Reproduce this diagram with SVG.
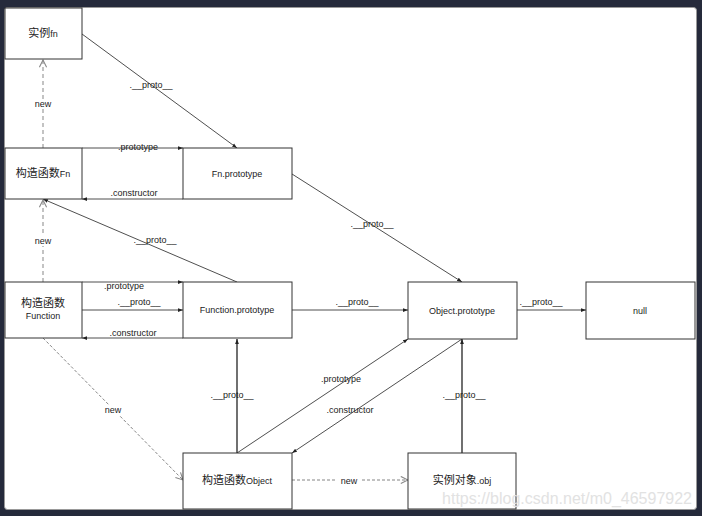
<svg xmlns="http://www.w3.org/2000/svg" width="702" height="516" viewBox="0 0 702 516">
<defs>
<style>
.box{fill:#fff;stroke:#333;stroke-width:1}
.t{font-family:"Liberation Sans","Noto Sans CJK SC",sans-serif;font-size:9px;fill:#222;text-anchor:middle}
.bt{font-family:"Liberation Sans","Noto Sans CJK SC",sans-serif;font-size:9px;fill:#222;text-anchor:middle}
.cjk{font-size:11px}
.ln{fill:none;stroke:#222;stroke-width:0.8}
.lnb{fill:none;stroke:#111;stroke-width:1.2}
.dash{fill:none;stroke:#aaa;stroke-width:1.4;stroke-dasharray:4,3}
.dash2{fill:none;stroke:#666;stroke-width:0.8;stroke-dasharray:3,2}
.lb{fill:#fff}
</style>
<marker id="a" viewBox="0 0 8 8" refX="8" refY="4" markerWidth="5" markerHeight="5" orient="auto" markerUnits="userSpaceOnUse">
<path d="M0,1 L8,4 L0,7 Z" fill="#222"/>
</marker>
<marker id="o" viewBox="0 0 10 10" refX="9" refY="5" markerWidth="9" markerHeight="9" orient="auto" markerUnits="userSpaceOnUse">
<path d="M1,1 L9,5 L1,9" fill="none" stroke="#888" stroke-width="1.2"/>
</marker>
</defs>
<rect x="0" y="0" width="702" height="516" fill="#252a3b"/>
<rect x="4.5" y="7.5" width="692" height="502" rx="3" fill="#fff" stroke="#999"/>

<g id="connectors">
<line class="ln" x1="82" y1="34" x2="237" y2="148" marker-end="url(#a)"/>
<line class="dash" x1="43" y1="148" x2="43" y2="60" marker-end="url(#o)"/>
<line class="ln" x1="82" y1="148" x2="183" y2="148" marker-end="url(#a)"/>
<line class="ln" x1="183" y1="199" x2="82" y2="199" marker-end="url(#a)"/>
<line class="ln" x1="292" y1="174" x2="462" y2="282" marker-end="url(#a)"/>
<line class="ln" x1="237" y1="282" x2="43" y2="199" marker-end="url(#a)"/>
<line class="dash" x1="43" y1="282" x2="43" y2="200" marker-end="url(#o)"/>
<line class="ln" x1="82" y1="282" x2="183" y2="282" marker-end="url(#a)"/>
<line class="ln" x1="82" y1="310" x2="183" y2="310" marker-end="url(#a)"/>
<line class="ln" x1="183" y1="338" x2="82" y2="338" marker-end="url(#a)"/>
<line class="ln" x1="292" y1="310" x2="408" y2="310" marker-end="url(#a)"/>
<line class="ln" x1="517" y1="310" x2="586" y2="310" marker-end="url(#a)"/>
<line class="dash2" x1="43" y1="338" x2="183" y2="480" marker-end="url(#o)"/>
<line class="lnb" x1="237" y1="453" x2="237" y2="339" marker-end="url(#a)"/>
<line class="ln" x1="237" y1="453" x2="408" y2="339" marker-end="url(#a)"/>
<line class="ln" x1="462" y1="339" x2="292" y2="453" marker-end="url(#a)"/>
<line class="dash2" x1="292" y1="480" x2="408" y2="480" marker-end="url(#o)"/>
<line class="lnb" x1="462" y1="453" x2="462" y2="339" marker-end="url(#a)"/>

<rect class="lb" x="31" y="99" width="24" height="10"/>
<text class="t" x="43" y="107">new</text>
<rect class="lb" x="31" y="236" width="24" height="10"/>
<text class="t" x="43" y="244">new</text>
<rect class="lb" x="101" y="405" width="24" height="10"/>
<text class="t" x="113" y="413">new</text>
<rect class="lb" x="337" y="476" width="24" height="10"/>
<text class="t" x="349" y="484">new</text>

<text class="t" x="151" y="88">.__proto__</text>
<text class="t" x="138" y="150">.prototype</text>
<text class="t" x="134" y="196">.constructor</text>
<text class="t" x="372" y="227">.__proto__</text>
<text class="t" x="155" y="243">.__proto__</text>
<text class="t" x="124" y="289">.prototype</text>
<text class="t" x="139" y="305">.__proto__</text>
<text class="t" x="133" y="336">.constructor</text>
<text class="t" x="357" y="305">.__proto__</text>
<text class="t" x="541" y="305">.__proto__</text>
<text class="t" x="232" y="398">.__proto__</text>
<text class="t" x="341" y="382">.prototype</text>
<text class="t" x="350" y="413">.constructor</text>
<text class="t" x="464" y="398">.__proto__</text>
</g>

<g id="n-fn"><rect class="box" x="5" y="8" width="77" height="51"/><text class="bt" x="43" y="37"><tspan class="cjk">实例</tspan>fn</text></g>
<g id="n-Fn"><rect class="box" x="5" y="148" width="77" height="51"/><text class="bt" x="43" y="177"><tspan class="cjk">构造函数</tspan>Fn</text></g>
<g id="n-Fnproto"><rect class="box" x="183" y="148" width="109" height="51"/><text class="bt" x="237" y="177">Fn.prototype</text></g>
<g id="n-Function"><rect class="box" x="5" y="282" width="77" height="56"/><text class="bt cjk" x="43" y="307">构造函数</text><text class="bt" x="43" y="319">Function</text></g>
<g id="n-Functionproto"><rect class="box" x="183" y="282" width="109" height="56"/><text class="bt" x="237" y="313">Function.prototype</text></g>
<g id="n-Objectproto"><rect class="box" x="408" y="282" width="109" height="57"/><text class="bt" x="462" y="314">Object.prototype</text></g>
<g id="n-null"><rect class="box" x="586" y="282" width="109" height="57"/><text class="bt" x="640" y="314">null</text></g>
<g id="n-Object"><rect class="box" x="183" y="453" width="109" height="56"/><text class="bt" x="237" y="484"><tspan class="cjk">构造函数</tspan>Object</text></g>
<g id="n-obj"><rect class="box" x="408" y="453" width="108" height="56"/><text class="bt" x="462" y="484"><tspan class="cjk">实例对象</tspan>.obj</text></g>

<text x="692" y="504" font-family="Liberation Sans,sans-serif" font-size="16" fill="#e2e2e2" text-anchor="end">https://blog.csdn.net/m0_46597922</text>
</svg>
